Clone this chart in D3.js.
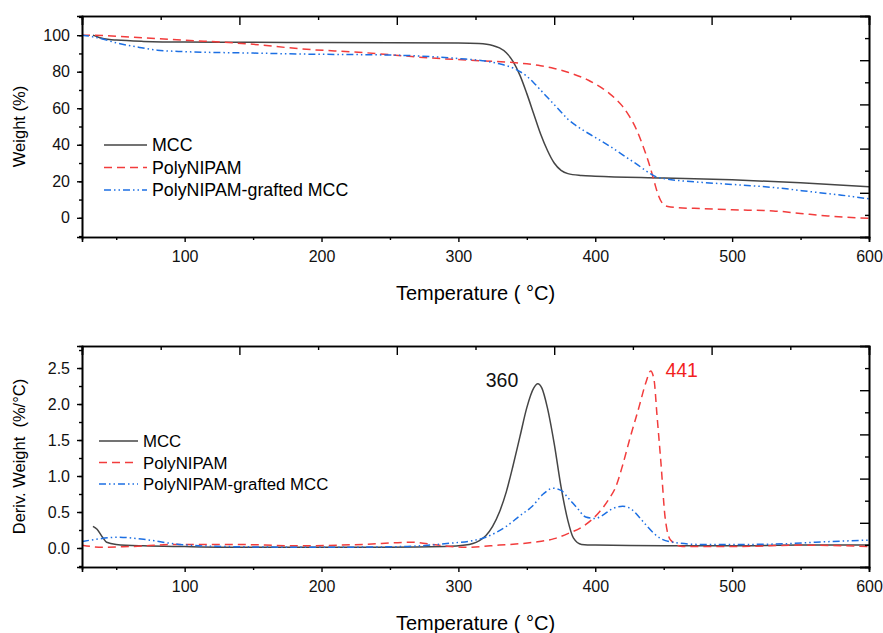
<!DOCTYPE html>
<html>
<head>
<meta charset="utf-8">
<script src="https://cdn.jsdelivr.net/npm/d3@7"></script>
<style>
body { margin: 0; background: #fff; }
text { font-family: "Liberation Sans", Arial, sans-serif; }
</style>
</head>
<body>
<svg width="883" height="633"></svg>
<script>
// TGA / DTG of MCC, PolyNIPAM and PolyNIPAM-grafted MCC

var seriesNames = ["MCC", "PolyNIPAM", "PolyNIPAM-grafted MCC"];

// TGA curves: [temperature °C, weight %]
var mccTGA = [[33,100],[38,98.6],[45,97.6],[50,97.3],[70,96.6],[100,96.2],[150,96.1],[200,96],[250,95.9],[300,95.7],[315,95.4],[325,94.4],[330,93],[335,90.4],[340,85.5],[345,78],[350,68],[355,57],[360,46],[365,37],[370,30],[375,26],[380,24.2],[390,23.2],[400,22.8],[450,21.8],[500,20.8],[550,19.2],[600,17]];
var nipamTGA = [[25,100],[40,99.8],[60,99],[100,97.3],[150,95],[185,92.5],[230,90.5],[280,87.5],[315,86],[340,85],[350,84.3],[360,83.3],[370,81.8],[380,79.7],[390,77],[395,75.3],[400,73.3],[405,71],[410,68.3],[415,65],[420,61],[425,55.5],[430,48.5],[435,39],[440,28],[443,20],[446,12.5],[449,8],[453,6.2],[460,5.6],[480,5],[500,4.4],[530,3.8],[550,2.4],[570,1],[600,-0.3]];
var graftTGA = [[25,100],[30,99.5],[38,98.3],[50,95.8],[67,93.3],[80,91.8],[100,91],[150,90.2],[184,89.7],[257,89],[300,87.2],[320,85.8],[330,84.3],[340,82],[350,77.5],[355,74],[360,70],[365,66],[370,62],[375,58],[380,54],[385,51],[390,48.5],[400,44],[410,39.5],[420,34.5],[430,29.5],[440,24.3],[445,22.3],[450,21.5],[464,20.2],[480,19.3],[500,18.3],[530,16.6],[561,14],[580,12.4],[600,10.4]];

// DTG curves: [temperature °C, deriv. weight %/°C]
var mccDTG = [[33,0.30],[36,0.26],[40,0.15],[43,0.08],[50,0.05],[70,0.03],[100,0.02],[150,0.01],[200,0.01],[250,0.01],[290,0.02],[305,0.04],[315,0.1],[320,0.17],[325,0.3],[330,0.5],[335,0.78],[340,1.15],[345,1.55],[350,1.95],[355,2.22],[358,2.28],[361,2.22],[365,1.95],[370,1.45],[375,0.85],[380,0.38],[384,0.14],[390,0.05],[400,0.04],[450,0.03],[500,0.03],[550,0.04],[600,0.04]];
var nipamDTG = [[25,0.04],[40,0.01],[60,0.02],[95,0.05],[135,0.05],[185,0.03],[230,0.05],[265,0.08],[285,0.04],[305,0.01],[330,0.04],[355,0.08],[370,0.13],[380,0.2],[391,0.3],[403,0.5],[410,0.68],[415,0.85],[420,1.15],[425,1.5],[432,1.96],[437,2.3],[440.5,2.46],[443,2.33],[445,1.87],[448,1.18],[451,0.43],[455,0.11],[464,0.02],[500,0.02],[550,0.04],[600,0.02]];
var graftDTG = [[25,0.09],[35,0.12],[51,0.15],[70,0.12],[96,0.05],[130,0.02],[200,0.01],[260,0.02],[296,0.07],[310,0.1],[320,0.15],[328,0.22],[335,0.3],[345,0.45],[354,0.58],[362,0.75],[369,0.83],[375,0.8],[380,0.7],[387,0.55],[393,0.43],[400,0.41],[405,0.45],[412,0.54],[420,0.58],[427,0.53],[432,0.43],[438,0.3],[443,0.2],[448,0.13],[454,0.09],[476,0.05],[512,0.05],[540,0.06],[561,0.08],[600,0.11]];

var xTicks = [100, 200, 300, 400, 500, 600];
var tgaTicks = [0, 20, 40, 60, 80, 100];
var dtgTicks = [0, 0.5, 1.0, 1.5, 2.0, 2.5];
var peakLabels = [{t: 358, v: 2.28, text: "360"}, {t: 441, v: 2.46, text: "441"}];

var colors = ["#454545", "#f23c3c", "#1c6fe3"];
var dashes = [null, "8,5", "7,3,1.5,3,1.5,3"];

var svg = d3.select("svg");
var left = 82, right = 869;

var x = d3.scaleLinear().domain([25, 600]).range([left, right]);

function panel(top, bottom, yDomain, yTicks, yMinor, yFmt, yTitle, data, legend, clipId) {
	var y = d3.scaleLinear().domain(yDomain).range([bottom, top]);
	var g = svg.append("g");

	g.append("clipPath").attr("id", clipId)
		.append("rect").attr("x", left).attr("y", top).attr("width", right - left).attr("height", bottom - top);

	var line = d3.line()
		.x(d => x(d[0]))
		.y(d => y(d[1]))
		.curve(d3.curveMonotoneX);

	g.append("g").attr("clip-path", "url(#" + clipId + ")")
		.selectAll("path")
		.data(data)
		.enter().append("path")
		.attr("d", line)
		.attr("fill", "none")
		.attr("stroke", (d, i) => colors[i])
		.attr("stroke-width", 1.5)
		.attr("stroke-dasharray", (d, i) => dashes[i]);

	// bottom axis: minor then major
	g.append("g").attr("transform", "translate(0," + bottom + ")")
		.call(d3.axisBottom(x).tickValues(d3.range(50, 601, 100)).tickSize(3).tickFormat(""));
	g.append("g").attr("transform", "translate(0," + bottom + ")")
		.call(d3.axisBottom(x).tickValues(xTicks).tickSize(5).tickPadding(9).tickFormat(d3.format("d")));

	// left axis
	g.append("g").attr("transform", "translate(" + left + ",0)")
		.call(d3.axisLeft(y).tickValues(yMinor).tickSize(3).tickFormat(""));
	g.append("g").attr("transform", "translate(" + left + ",0)")
		.call(d3.axisLeft(y).tickValues(yTicks).tickSize(5).tickPadding(7).tickFormat(yFmt));

	// top and right frame axes with inward ticks
	var fx = d3.scaleLinear().domain([0, 10]).range([left, right]);
	var fy = d3.scaleLinear().domain([0, 10]).range([bottom, top]);
	g.append("g").attr("transform", "translate(0," + top + ")")
		.call(d3.axisTop(fx).tickValues([1, 3, 5, 7, 9]).tickSize(-4).tickFormat(""));
	g.append("g").attr("transform", "translate(0," + top + ")")
		.call(d3.axisTop(fx).tickValues([0, 2, 4, 6, 8, 10]).tickSize(-9).tickFormat(""));
	g.append("g").attr("transform", "translate(" + right + ",0)")
		.call(d3.axisRight(fy).tickValues([1, 3, 5, 7, 9]).tickSize(-4).tickFormat(""));
	g.append("g").attr("transform", "translate(" + right + ",0)")
		.call(d3.axisRight(fy).tickValues([0, 2, 4, 6, 8, 10]).tickSize(-9).tickFormat(""));

	g.selectAll(".domain").attr("stroke", "#000").attr("stroke-width", 1.6);
	g.selectAll(".tick line").attr("stroke", "#000").attr("stroke-width", 1.4);
	g.selectAll(".tick text").attr("font-size", 16).attr("fill", "#111");

	g.append("text")
		.attr("x", (left + right) / 2).attr("y", bottom + 63)
		.attr("text-anchor", "middle").attr("font-size", 20)
		.text("Temperature ( °C)");

	g.append("text")
		.attr("transform", "translate(25," + ((top + bottom) / 2) + ") rotate(-90)")
		.attr("text-anchor", "middle").attr("font-size", 16.5)
		.style("white-space", "pre")
		.text(yTitle);

	var lg = g.append("g").selectAll("g")
		.data(seriesNames)
		.enter().append("g")
		.attr("transform", (d, i) => "translate(" + legend.x + "," + (legend.y + i * legend.dy) + ")");
	lg.append("line")
		.attr("x1", 0).attr("x2", legend.len)
		.attr("stroke", (d, i) => colors[i])
		.attr("stroke-width", 1.5)
		.attr("stroke-dasharray", (d, i) => dashes[i]);
	lg.append("text")
		.attr("x", legend.len + 5).attr("y", 6)
		.attr("font-size", legend.fs)
		.text(d => d);

	return y;
}

panel(16, 237, [-10.5, 110.5], tgaTicks, d3.range(-10, 111, 10), d3.format("d"),
	"Weight (%)", [mccTGA, nipamTGA, graftTGA],
	{x: 104, y: 145, dy: 22.5, len: 43, fs: 17.8}, "clipTop");

var yD = panel(346, 567, [-0.264, 2.806], dtgTicks, d3.range(-0.25, 2.76, 0.25), d3.format(".1f"),
	"Deriv. Weight  (%/°C)", [mccDTG, nipamDTG, graftDTG],
	{x: 99, y: 441, dy: 21.5, len: 39, fs: 16.8}, "clipBot");

svg.append("g").selectAll("text")
	.data(peakLabels)
	.enter().append("text")
	.attr("x", (d, i) => i == 0 ? x(d.t) - 52 : x(d.t) + 14)
	.attr("y", (d, i) => i == 0 ? yD(d.v) + 3 : yD(d.v) + 6)
	.attr("font-size", 19.5)
	.attr("fill", (d, i) => i == 0 ? "#111" : "#f21f1f")
	.text(d => d.text);
</script>
</body>
</html>
